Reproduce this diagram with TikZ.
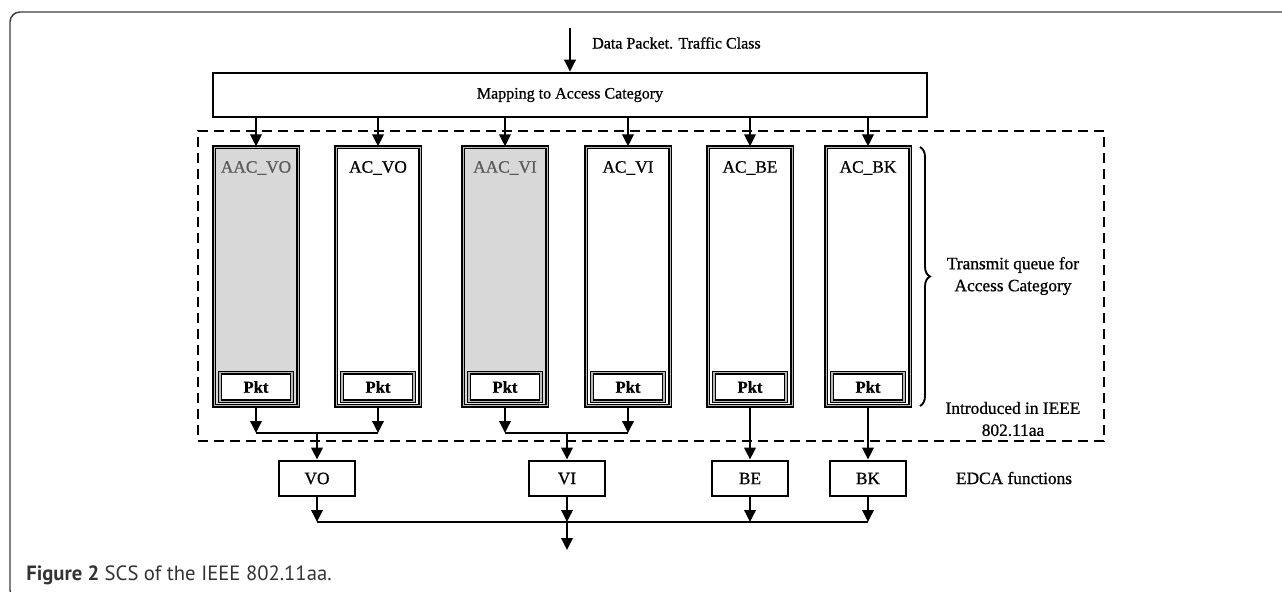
\documentclass[tikz,border=0pt]{standalone}
\usepackage{fontspec}
\setmainfont{Liberation Serif}[FakeBold=0.8]
\newfontfamily\capfont{PT Sans}
\usetikzlibrary{arrows.meta,decorations.pathreplacing}
\definecolor{qgray}{HTML}{D8D8D8}
\definecolor{labgray}{HTML}{5A5A5A}
\definecolor{framegray}{HTML}{3C3C3C}
\begin{document}
\begin{tikzpicture}[x=0.75pt,y=-0.75pt,
  arr/.style={line width=1.8pt,-{Triangle[length=9pt,width=8.5pt]}},
  conn/.style={line width=1.8pt},
  mapbox/.style={draw, line width=1.9pt, minimum width=535.5pt, minimum height=33pt, inner sep=0pt, font=\fontsize{12}{14}\selectfont},
  queue/.style={draw=black, double=gray!55, line width=1.2pt, double distance=0.7pt, minimum width=63pt, minimum height=194pt, inner sep=0pt},
  qlabel/.style={font=\fontsize{13}{15}\selectfont, inner sep=0pt},
  pkt/.style={draw=black, double=gray!55, line width=1.0pt, double distance=0.8pt, fill=white, minimum width=54pt, minimum height=21.5pt, inner sep=0pt, font=\bfseries\fontsize{12.5}{14}\selectfont},
  func/.style={draw, line width=1.9pt, minimum width=57pt, minimum height=26.5pt, inner sep=0pt, font=\fontsize{13}{15}\selectfont},
  region/.style={draw, line width=1.9pt, dash pattern=on 7.5pt off 4.5pt, minimum width=679.5pt, minimum height=232.5pt, inner sep=0pt},
  side/.style={font=\fontsize{13}{16.5}\selectfont, align=center, inner sep=0pt},
  frame/.style={draw=framegray, line width=1.1pt, rounded corners=7.5pt}
]
\useasboundingbox (0,0) rectangle (1282,592);
% outer frame
\draw[frame] (1290,12) -- (10,12) -- (10,600) -- (40,600);
% region
\node[region] (reg) at (651,286) {};
% input
\coordinate (in) at (570,28);
\node[mapbox] (map) at (570,95) {Mapping to Access Category};
\draw[arr] (in) -- (in |- map.north);
\node[anchor=west, font=\fontsize{12}{14}\selectfont, inner sep=0pt] (dp) at (592,43) {Data Packet. Traffic Class};
% queues
\foreach \n/\x/\lab/\fc/\tc in {1/256/AAC\_VO/qgray/labgray, 2/378/AC\_VO/white/black, 3/505/AAC\_VI/qgray/labgray, 4/628/AC\_VI/white/black, 5/750/AC\_BE/white/black, 6/868/AC\_BK/white/black}{
  \node[queue, fill=\fc] (q\n) at (\x,276.5) {};
  \node[qlabel, text=\tc] (l\n) at (\x,168) {\lab};
  \node[pkt] (p\n) at (\x,387) {Pkt};
  \draw[arr] (map.south -| q\n.north) -- (q\n.north);
}
% brace
\coordinate (bt) at (920,147);
\coordinate (bb) at (920,406);
\draw[line width=1.4pt, decorate, decoration={brace, amplitude=7.5pt}] (bt) -- (bb);
\node[side] (tq) at (1013,276) {Transmit queue for\\Access Category};
\node[side] (intro) at (1013,419) {Introduced in IEEE\\802.11aa};
% EDCA functions
\node[func] (vo) at (317,478.5) {VO};
\node[func] (vi) at (567,478.5) {VI};
\node[func] (be) at (750,478.5) {BE};
\node[func] (bk) at (868,478.5) {BK};
\node[side] (edca) at (1014,478) {EDCA functions};
% junctions
\coordinate (j1) at (317,433);
\coordinate (j2) at (567,433);
\draw[arr] (q1.south) -- (q1.south |- j1);
\draw[arr] (q2.south) -- (q2.south |- j1);
\draw[conn] (q1.south |- j1) -- (q2.south |- j1);
\draw[arr] (j1) -- (vo.north);
\draw[arr] (q3.south) -- (q3.south |- j2);
\draw[arr] (q4.south) -- (q4.south |- j2);
\draw[conn] (q3.south |- j2) -- (q4.south |- j2);
\draw[arr] (j2) -- (vi.north);
\draw[arr] (q5.south) -- (be.north);
\draw[arr] (q6.south) -- (bk.north);
% output
\coordinate (b) at (0,522);
\coordinate (out) at (567,550);
\draw[conn] (vo.south |- b) -- (bk.south |- b);
\draw[arr] (vo.south) -- (vo.south |- b);
\draw[arr] (vi.south) -- (vi.south |- b);
\draw[arr] (be.south) -- (be.south |- b);
\draw[arr] (bk.south) -- (bk.south |- b);
\draw[arr] (vi.south |- b) -- (out);
% caption
\node[anchor=base west, inner sep=0pt, font=\capfont\fontsize{15.5}{18}\selectfont, text=black!80] (cap) at (26,580) {\textbf{Figure 2} SCS of the IEEE 802.11aa.};
\end{tikzpicture}
\end{document}
